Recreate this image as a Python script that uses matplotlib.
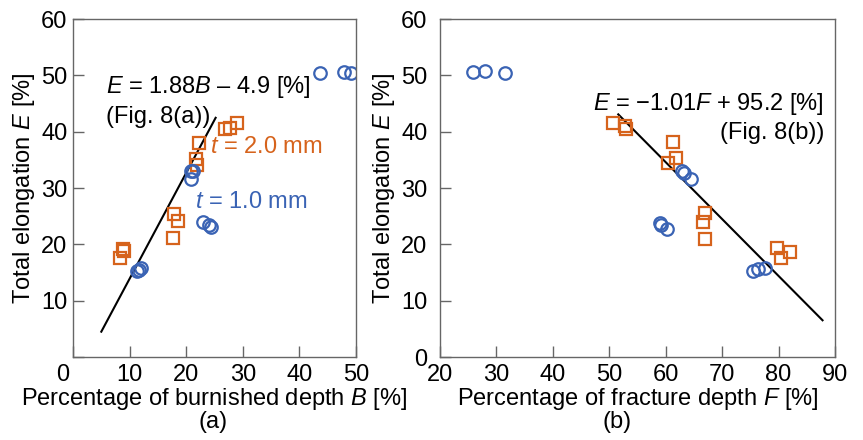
import numpy as np
import matplotlib
matplotlib.use("Agg")
import matplotlib.pyplot as plt
import matplotlib.transforms as mtransforms

plt.rcParams['font.family'] = ['Liberation Sans', 'DejaVu Sans']
plt.rcParams['mathtext.fontset'] = 'custom'
plt.rcParams['mathtext.rm'] = 'Liberation Sans'
plt.rcParams['mathtext.it'] = 'Liberation Sans:italic'
plt.rcParams['font.size'] = 17

BLUE = '#3A63B4'
ORANGE = '#D6631C'
SPINE = '#666666'

# (a) burnished depth B [%] vs total elongation E [%]
b_t10 = [43.6, 47.8, 49.1, 20.8, 21.2, 20.85, 23.0, 24.1, 24.3, 11.25, 11.95, 11.6]
e_t10_a = [50.4, 50.6, 50.5, 33.1, 33.0, 31.6, 24.0, 23.4, 23.0, 15.3, 15.8, 15.5]
b_t20 = [22.3, 21.7, 21.9, 26.8, 27.7, 29.0, 17.8, 18.6, 17.7, 8.8, 9.0, 8.3]
e_t20_a = [38.0, 35.1, 34.1, 40.4, 40.7, 41.6, 25.4, 24.1, 21.2, 19.2, 18.9, 17.6]

# (b) fracture depth F [%] vs total elongation E [%]
f_t10 = [25.9, 28.0, 31.5, 62.9, 63.2, 64.5, 59.0, 59.1, 60.3, 75.4, 76.4, 77.6]
e_t10_b = [50.6, 50.8, 50.5, 33.1, 32.6, 31.6, 23.8, 23.4, 22.8, 15.3, 15.6, 15.8]
f_t20 = [50.6, 52.8, 53.0, 61.3, 61.8, 60.5, 67.0, 66.6, 67.0, 79.7, 80.5, 82.1]
e_t20_b = [41.6, 41.0, 40.4, 38.2, 35.4, 34.5, 25.5, 24.0, 20.9, 19.3, 17.5, 18.7]

# regression lines
fit_a = (1.88, -4.9)
fit_a_range = [5.0, 25.2]
fit_b = (-1.01, 95.2)
fit_b_range = [51.6, 87.8]

fig = plt.figure(figsize=(8.63, 4.40), dpi=100)
ax1 = fig.add_axes([0.0846, 0.1886, 0.3279, 0.768])
ax2 = fig.add_axes([0.5098, 0.1886, 0.4577, 0.768])

mk = dict(linestyle='none', markerfacecolor='none', markersize=9, markeredgewidth=1.6)


def style(ax):
    for s in ax.spines.values():
        s.set_color(SPINE)
        s.set_linewidth(1.0)
    ax.tick_params(direction='in', length=8, width=1.0, color=SPINE, labelsize=17)
    ax.set_ylim(0, 60)
    ax.set_yticks(range(0, 61, 10))


# --- panel (a)
xa = np.array(fit_a_range)
ax1.plot(xa, fit_a[0] * xa + fit_a[1], color='black', lw=1.5, zorder=1)
ax1.plot(b_t20, e_t20_a, marker='s', color=ORANGE, **mk)
ax1.plot(b_t10, e_t10_a, marker='o', color=BLUE, **mk)
style(ax1)
ax1.set_xlim(0, 50)
ax1.set_xticks(range(0, 51, 10))
ax1.set_yticklabels(['', '10', '20', '30', '40', '50', '60'])
ax1.tick_params(axis='y', pad=4)
ax1.tick_params(axis='x', pad=5)
ax1.set_xlabel('Percentage of burnished depth $B$ [%]', labelpad=0)
ax1.set_ylabel('Total elongation $E$ [%]', labelpad=3)
# nudge the corner "0" to the left
off = mtransforms.ScaledTranslation(-10 / 100, 0, fig.dpi_scale_trans)
lbl0 = ax1.get_xticklabels()[0]
lbl0.set_transform(lbl0.get_transform() + off)

ax1.text(5.8, 47.9, '$E$ = 1.88$B$ \u2013 4.9 [%]', va='center', ha='left')
ax1.text(5.8, 42.6, '(Fig. 8(a))', va='center', ha='left')
ax1.text(24.2, 37.3, '$t$ = 2.0 mm', color=ORANGE, va='center', ha='left')
ax1.text(21.6, 27.6, '$t$ = 1.0 mm', color=BLUE, va='center', ha='left')

# --- panel (b)
xb = np.array(fit_b_range)
ax2.plot(xb, fit_b[0] * xb + fit_b[1], color='black', lw=1.5, zorder=1)
ax2.plot(f_t20, e_t20_b, marker='s', color=ORANGE, **mk)
ax2.plot(f_t10, e_t10_b, marker='o', color=BLUE, **mk)
style(ax2)
ax2.set_xlim(20, 90)
ax2.set_xticks(range(20, 91, 10))
ax2.tick_params(axis='y', pad=9)
ax2.tick_params(axis='x', pad=5)
ax2.set_xlabel('Percentage of fracture depth $F$ [%]', labelpad=0)
ax2.set_ylabel('Total elongation $E$ [%]', labelpad=3)

ax2.text(88.1, 45.0, '$E$ = \u22121.01$F$ + 95.2 [%]', va='center', ha='right')
ax2.text(88.1, 39.7, '(Fig. 8(b))', va='center', ha='right')

fig.text(0.247, 0.041, '(a)', ha='center', va='center')
fig.text(0.715, 0.041, '(b)', ha='center', va='center')

fig.savefig('out.png', dpi=100)
